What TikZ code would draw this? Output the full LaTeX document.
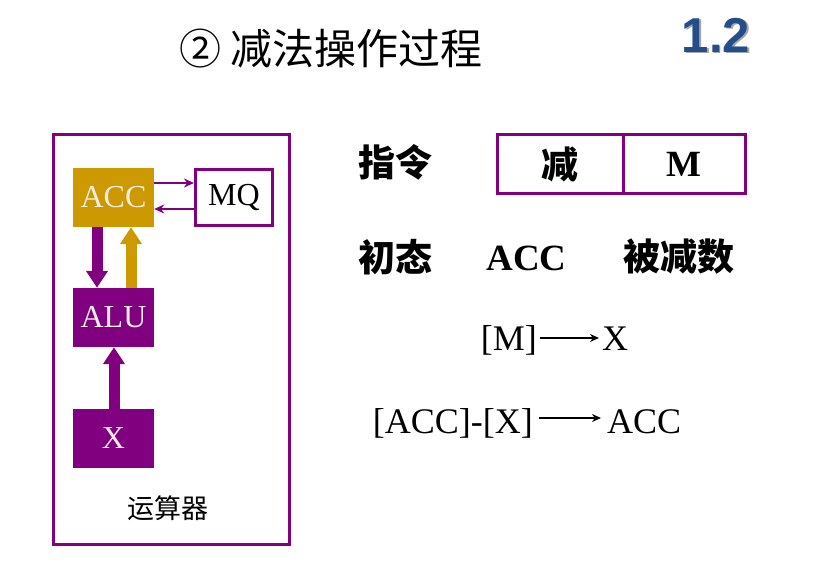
\documentclass[tikz,border=0pt]{standalone}
\usepackage{fontspec}
\setmainfont{Liberation Serif}
\newfontfamily\cjk{Noto Sans CJK SC}
\newfontfamily\headfont{Liberation Sans}
\usetikzlibrary{arrows.meta}
\definecolor{regpurple}{RGB}{128,0,128}
\definecolor{accgold}{RGB}{204,153,0}
\definecolor{headblue}{RGB}{35,78,138}
\definecolor{boxtext}{RGB}{238,236,228}

\def\fs#1{\fontsize{#1}{#1}\selectfont}

\begin{document}
\begin{tikzpicture}[x=1pt, y=-1pt, line cap=butt,
	regbox/.style={minimum width=81pt, minimum height=59pt, inner sep=0pt, text=boxtext, font=\fs{32}},
	fieldbox/.style={draw=regpurple, line width=3pt, minimum height=59pt, inner sep=0pt},
	busarrow/.style={line width=11pt, -{Triangle[width=21pt,length=17pt]}},
	linkarrow/.style={draw=regpurple, line width=2pt, -{Stealth[width=9pt,length=10pt]}},
	maparrow/.style={line width=1.8pt, -{Stealth[width=8pt,length=9pt]}},
	cjktext/.style={font=\cjk\fs{37}\bfseries},
	eqtext/.style={inner xsep=3pt, inner ysep=0pt, font=\fs{36}}
	]
	\useasboundingbox (0,0) rectangle (835,567);
	
	% title and section number
	\node[anchor=west, inner sep=0pt, font=\cjk\fs{42}] (title) at (179,49) {② 减法操作过程};
	\node[text=black!35, font=\headfont\bfseries\fs{49}] (numshade) at (717.5,36.5) {1.2};
	\node[text=headblue, font=\headfont\bfseries\fs{49}] (num) at (716,35) {1.2};
	
	% arithmetic unit
	\draw[regpurple, line width=3pt] (53.5,134.5) rectangle (289.5,544.5);
	\node[regbox, fill=accgold] (acc) at (113.5,197.5) {ACC};
	\node[regbox, draw=regpurple, line width=3pt, fill=white, text=black, minimum width=77pt, minimum height=56pt] (mq) at (234,197.5) {MQ};
	\node[regbox, fill=regpurple] (alu) at (113.5,317.5) {ALU};
	\node[regbox, fill=regpurple] (x) at (113.5,438.5) {X};
	\node[font=\cjk\fs{27}] (unit) at (168,508) {运算器};
	
	\draw[linkarrow] ([yshift=14.5pt]acc.east) -- ([yshift=14.5pt]mq.west);
	\draw[linkarrow] ([yshift=-11.5pt]mq.west) -- ([yshift=-11.5pt]acc.east);
	\draw[busarrow, regpurple] ([xshift=-16.5pt]acc.south) -- ([xshift=-16.5pt]alu.north);
	\draw[busarrow, accgold] ([xshift=17.5pt]alu.north) -- ([xshift=17.5pt]acc.south);
	\draw[busarrow, regpurple] ([xshift=0.5pt]x.north) -- ([xshift=0.5pt]alu.south);
	
	% instruction
	\node[cjktext] (instr) at (395,162) {指令};
	\node[fieldbox, minimum width=125.5pt, cjktext] (opfield) at (560.25,164) {减};
	\node[fieldbox, minimum width=122.5pt, font=\fs{37}\bfseries] (addrfield) at (684.25,164) {M};
	
	% initial state
	\node[cjktext] (init) at (395,257) {初态};
	\node[anchor=base, inner sep=0pt, font=\fs{37}\bfseries] (accname) at (526.5,270) {ACC};
	\node[cjktext] (minuend) at (679,257) {被减数};
	
	% transfers
	\node[eqtext, anchor=base east] (mref) at (540,350) {[M]};
	\node[eqtext, anchor=base west] (xdst) at (599,350) {X};
	\draw[maparrow] ([yshift=12pt]mref.base east) -- ([yshift=12pt]xdst.base west);
	
	\node[eqtext, anchor=base east] (diff) at (536,433) {[ACC]-[X]};
	\node[eqtext, anchor=base west] (accdst) at (604,433) {ACC};
	\draw[maparrow] ([shift={(3pt,15pt)}]diff.base east) -- ([shift={(-3pt,15pt)}]accdst.base west);
\end{tikzpicture}
\end{document}
